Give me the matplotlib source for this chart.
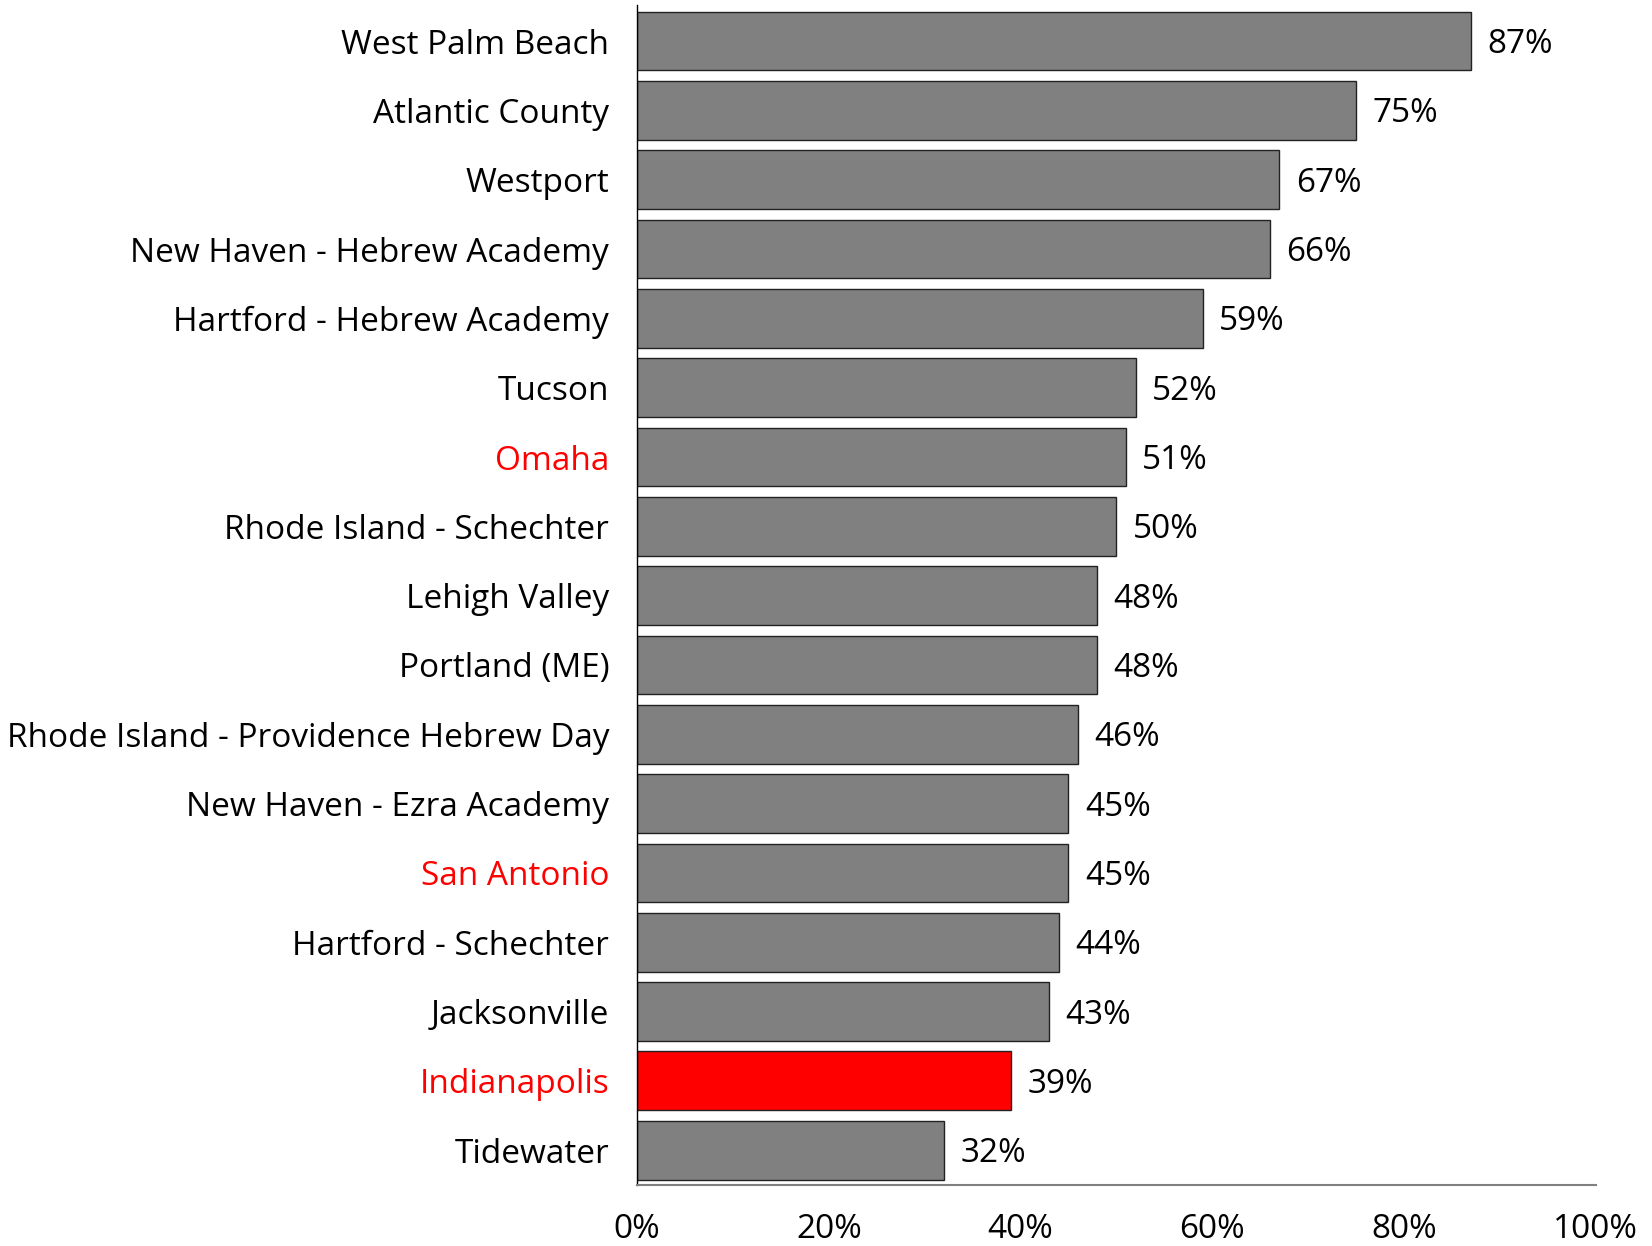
import numpy as np
import matplotlib.pyplot as plt

# data, top to bottom
schools = ['West Palm Beach', 'Atlantic County', 'Westport',
           'New Haven - Hebrew Academy', 'Hartford - Hebrew Academy',
           'Tucson', 'Omaha', 'Rhode Island - Schechter', 'Lehigh Valley',
           'Portland (ME)', 'Rhode Island - Providence Hebrew Day',
           'New Haven - Ezra Academy', 'San Antonio', 'Hartford - Schechter',
           'Jacksonville', 'Indianapolis', 'Tidewater']
pct = [87, 75, 67, 66, 59, 52, 51, 50, 48, 48, 46, 45, 45, 44, 43, 39, 32]
red_labels = ['Omaha', 'San Antonio', 'Indianapolis']
red_bars = ['Indianapolis']
xticks = [0, 20, 40, 60, 80, 100]

plt.rcParams['font.family'] = ['Open Sans', 'DejaVu Sans']


def main():
    fig = plt.figure(figsize=(16.52, 12.46), dpi=100)
    ax = fig.add_axes([0.3856, 0.049, 0.5804, 0.947])

    y = np.arange(len(schools))
    colors = ['#ff0000' if s in red_bars else '#808080' for s in schools]
    ax.barh(y, pct, height=0.85, color=colors, edgecolor='#222222',
            linewidth=1.0, zorder=2)

    for yi, v in zip(y, pct):
        ax.text(v + 1.7, yi + 0.05, f'{v}%', va='center', ha='left',
                fontsize=24, color='black')

    ax.set_ylim(len(schools) - 0.5, -0.52)
    ax.set_xlim(0, 100)
    ax.set_yticks(y)
    ax.set_yticklabels(schools, fontsize=24)
    for lbl in ax.get_yticklabels():
        if lbl.get_text() in red_labels:
            lbl.set_color('#ff0000')
    ax.set_xticks(xticks)
    ax.set_xticklabels([f'{t}%' for t in xticks], fontsize=24)
    ax.tick_params(axis='both', length=0)
    ax.tick_params(axis='x', pad=20)
    ax.tick_params(axis='y', pad=20)

    ax.spines['top'].set_visible(False)
    ax.spines['right'].set_visible(False)
    ax.spines['left'].set_color('black')
    ax.spines['left'].set_linewidth(1.0)
    ax.spines['bottom'].set_color('#808080')
    ax.spines['bottom'].set_linewidth(1.5)

    fig.savefig('out.png', dpi=100)


if __name__ == '__main__':
    main()
